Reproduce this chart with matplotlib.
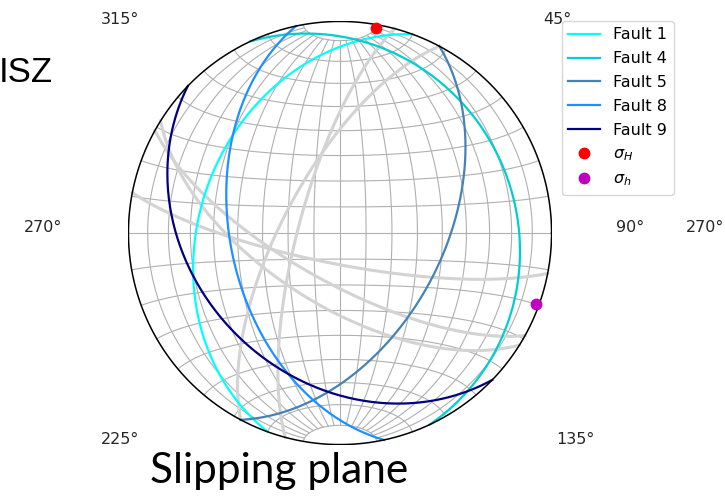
import numpy as np
import matplotlib
matplotlib.use("Agg")
import matplotlib.pyplot as plt

# planes as strike / dip (right hand rule), lower hemisphere
fault_names = ['Fault 1', 'Fault 4', 'Fault 5', 'Fault 8', 'Fault 9']
fault_strikes = [200, 335, 28, 168, 134]
fault_dips = [34, 18, 50, 47, 32]
fault_colors = ['cyan', 'darkturquoise', 'steelblue', 'dodgerblue', 'navy']

# other planes drawn in the background
other_strikes = [208, 195, 101, 119, 122]
other_dips = [68, 74, 78, 71, 62]

# stress axes: trend / plunge
stress_labels = [r'$\sigma_H$', r'$\sigma_h$']
stress_trends = [10, 110]
stress_plunges = [2, 1.5]
stress_colors = ['r', 'm']

azimuth_labels = ['315°', '45°', '270°', '90°', '225°', '135°']


def project(e, n, d):
    # equal-area (Schmidt) projection of unit vectors (east, north, down)
    k = 1.0 / np.sqrt(1.0 + d)
    return e * k, n * k


def plane_xy(strike, dip, npts=200):
    s = np.radians(strike)
    dd = np.radians(strike + 90)
    dp = np.radians(dip)
    sv = np.array([np.sin(s), np.cos(s), 0.0])
    dv = np.array([np.sin(dd) * np.cos(dp), np.cos(dd) * np.cos(dp), np.sin(dp)])
    t = np.linspace(0, np.pi, npts)
    v = np.outer(np.cos(t), sv) + np.outer(np.sin(t), dv)
    return project(v[:, 0], v[:, 1], v[:, 2])


def line_xy(trend, plunge):
    tr = np.radians(trend)
    pl = np.radians(plunge)
    return project(np.cos(pl) * np.sin(tr), np.cos(pl) * np.cos(tr), np.sin(pl))


W, H = 725, 497
cx, cy, R = 340, 233, 212
fig = plt.figure(figsize=(W / 100, H / 100), dpi=100)
ax = fig.add_axes([(cx - R) / W, (H - cy - R) / H, 2 * R / W, 2 * R / H])
ax.set_xlim(-1.002, 1.002)
ax.set_ylim(-1.002, 1.002)
ax.axis('off')

# grid: meridians and parallels about the N-S axis, capped at 80 deg
gcol, glw = '#b0b0b0', 0.8
phi = np.radians(np.linspace(-80, 80, 161))
for lon in range(-80, 81, 10):
    lam = np.radians(lon)
    x, y = project(np.cos(phi) * np.sin(lam), np.sin(phi), np.cos(phi) * np.cos(lam))
    ax.plot(x, y, color=gcol, lw=glw, zorder=1)
lam = np.radians(np.linspace(-90, 90, 181))
for lat in range(-80, 81, 10):
    p = np.radians(lat)
    x, y = project(np.cos(p) * np.sin(lam), np.full_like(lam, np.sin(p)), np.cos(p) * np.cos(lam))
    ax.plot(x, y, color=gcol, lw=glw, zorder=1)

for st, dp in zip(other_strikes, other_dips):
    x, y = plane_xy(st, dp)
    ax.plot(x, y, color='lightgrey', lw=2.2, zorder=2)

for name, st, dp, c in zip(fault_names, fault_strikes, fault_dips, fault_colors):
    x, y = plane_xy(st, dp)
    ax.plot(x, y, color=c, lw=1.6, label=name, zorder=3)

for lab, tr, pl, c in zip(stress_labels, stress_trends, stress_plunges, stress_colors):
    x, y = line_xy(tr, pl)
    ax.plot(x, y, 'o', color=c, ms=7.5, label=lab, zorder=5, clip_on=False)

t = np.linspace(0, 2 * np.pi, 400)
ax.plot(np.cos(t), np.sin(t), color='k', lw=1.1, zorder=4)

lab_pos = [(120, 20), (557, 20), (43, 228), (630, 228), (120, 440), (575, 440)]
for s, (px, py) in zip(azimuth_labels, lab_pos):
    fig.text(px / W, 1 - py / H, s, ha='center', va='center', fontsize=11.5, color='#262626')
# label of the neighbouring net
fig.text(705 / W, 1 - 228 / H, '270°', ha='center', va='center', fontsize=11.5, color='#262626')

fig.legend(loc='upper left', bbox_to_anchor=(562 / W, 1 - 21 / H), fontsize=11.5,
           borderaxespad=0, framealpha=0.8, labelspacing=0.55)

fig.text(53 / W, 1 - 72 / H, 'ISZ', ha='right', va='center', fontsize=25,
         family='Liberation Sans')
fig.text(150 / W, 1 - 483 / H, 'Slipping plane', ha='left', va='baseline', fontsize=30.5,
         family='Lato')

fig.savefig('out.png', dpi=100)
